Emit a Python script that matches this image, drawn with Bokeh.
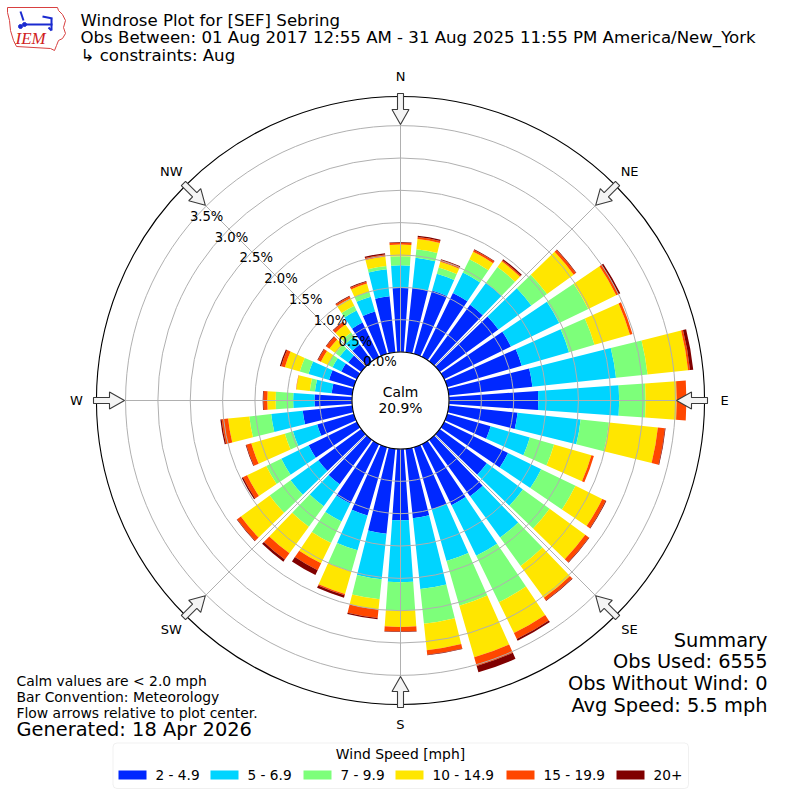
import math
from bokeh.plotting import figure
from bokeh.models import Range1d, BoxAnnotation, ColumnDataSource
from bokeh.core.properties import value
from bokeh.embed import file_html
from bokeh.resources import INLINE

# ---------------- data ----------------
directions = list(range(0, 360, 10))
speed_bins = ["2 - 4.9", "5 - 6.9", "7 - 9.9", "10 - 14.9", "15 - 19.9", "20+"]
bin_colors = ["#0028ff", "#00d4ff", "#7dff7a", "#ffe600", "#ff4700", "#800000"]

# percent of observations per direction (0,10,...,350) for each speed bin
pct_2_5 = [0.99, 1.00, 1.02, 1.10, 1.08, 1.12, 1.15, 1.20, 1.30, 1.38,
           1.07, 0.70, 1.10, 0.90, 1.08, 1.05, 1.00, 1.08, 1.10, 1.32,
           1.10, 1.02, 0.85, 0.82, 0.83, 0.59, 0.77, 0.58, 0.32, 0.40,
           0.27, 0.25, 0.32, 0.59, 0.68, 0.87]
pct_5_7 = [0.35, 0.47, 0.27, 0.35, 0.42, 0.63, 0.83, 0.76, 1.30, 1.25,
           0.98, 0.63, 0.57, 0.69, 0.79, 0.87, 0.83, 1.10, 0.96, 0.71,
           0.56, 0.31, 0.42, 0.53, 0.47, 0.39, 0.49, 0.33, 0.26, 0.33,
           0.15, 0.16, 0.15, 0.21, 0.24, 0.42]
pct_7_10 = [0.14, 0.13, 0.10, 0.23, 0.30, 0.30, 0.50, 0.41, 0.49, 0.41,
            0.44, 0.39, 0.59, 0.51, 0.54, 0.80, 0.72, 0.54, 0.44, 0.31,
            0.34, 0.37, 0.39, 0.40, 0.26, 0.13, 0.34, 0.27, 0.08, 0.14,
            0.08, 0.08, 0.08, 0.08, 0.08, 0.05]
pct_10_15 = [0.18, 0.16, 0.09, 0.13, 0.11, 0.51, 0.48, 0.57, 0.63, 0.48,
             0.76, 0.60, 0.46, 0.68, 0.61, 0.53, 0.83, 0.41, 0.25, 0.16,
             0.36, 0.35, 0.51, 0.55, 0.33, 0.54, 0.33, 0.13, 0.21, 0.24,
             0.12, 0.12, 0.15, 0.13, 0.13, 0.15]
pct_15_20 = [0.03, 0.03, 0.03, 0.03, 0.02, 0.04, 0.04, 0.04, 0.03, 0.15,
             0.11, 0.04, 0.06, 0.07, 0.05, 0.10, 0.14, 0.07, 0.07, 0.13,
             0.02, 0.12, 0.12, 0.07, 0.07, 0.08, 0.10, 0.06, 0.005, 0.06,
             0.05, 0.06, 0.05, 0.03, 0.03, 0.03]
pct_20p = [0.01, 0.02, 0.01, 0.01, 0.02, 0.01, 0.03, 0.00, 0.05, 0.00,
           0.01, 0.00, 0.01, 0.01, 0.01, 0.03, 0.10, 0.01, 0.01, 0.02,
           0.04, 0.08, 0.04, 0.01, 0.02, 0.01, 0.02, 0.01, 0.00, 0.02,
           0.01, 0.01, 0.01, 0.01, 0.01, 0.02]
series = [pct_2_5, pct_5_7, pct_7_10, pct_10_15, pct_15_20, pct_20p]

ring_values = [0.0, 0.5, 1.0, 1.5, 2.0, 2.5, 3.0, 3.5]
ring_labels = ["0.0%", "0.5%", "1.0%", "1.5%", "2.0%", "2.5%", "3.0%", "3.5%"]
compass_labels = ["N", "NE", "E", "SE", "S", "SW", "W", "NW"]
compass_angles = [0, 45, 90, 135, 180, 225, 270, 315]
calm_text = ["Calm", "20.9%"]
title_lines = ["Windrose Plot for [SEF] Sebring",
               "Obs Between: 01 Aug 2017 12:55 AM - 31 Aug 2025 11:55 PM America/New_York",
               "\u21b3 constraints: Aug"]
notes = ["Calm values are < 2.0 mph", "Bar Convention: Meteorology",
         "Flow arrows relative to plot center."]
generated = "Generated: 18 Apr 2026"
summary = ["Summary", "Obs Used: 6555", "Obs Without Wind: 0", "Avg Speed: 5.5 mph"]
legend_title = "Wind Speed [mph]"

# ---------------- geometry ----------------
S = 64.7                 # pixels per 1 % of radius
R0 = 48.5 / S            # calm circle radius (data units)
R_MAX = 3.95             # outer limit in %
R_OUT = R0 + R_MAX
HALF = 400.0 / S

def X(px):
    return (px - 400.0) / S

def Y(py):
    return (400.0 - py) / S

FONT = value("DejaVu Sans")

p = figure(width=800, height=800, x_range=Range1d(-HALF, HALF), y_range=Range1d(-HALF, HALF),
           output_backend="svg", toolbar_location=None, min_border=0,
           x_axis_type=None, y_axis_type=None)
p.outline_line_color = None
p.background_fill_color = "white"
p.border_fill_color = "white"
p.grid.visible = False

# ---------------- legend frame (underlay) ----------------
p.add_layout(BoxAnnotation(left=X(112.5), right=X(688), top=Y(742.5), bottom=Y(788),
                           fill_color="white", fill_alpha=1.0, line_color="#cccccc",
                           line_width=1, border_radius=4, level="underlay"))

# ---------------- bars ----------------
half_w = 4.0
cum = [0.0] * len(directions)
for k, vals in enumerate(series):
    inner = [R0 + c for c in cum]
    cum = [c + v for c, v in zip(cum, vals)]
    outer = [R0 + c for c in cum]
    src = ColumnDataSource(dict(
        x=[0.0] * len(directions), y=[0.0] * len(directions),
        ir=inner, orr=outer,
        sa=[math.radians(90 - d - half_w) for d in directions],
        ea=[math.radians(90 - d + half_w) for d in directions]))
    p.annular_wedge(x="x", y="y", inner_radius="ir", outer_radius="orr",
                    start_angle="sa", end_angle="ea", source=src,
                    fill_color=bin_colors[k], line_color=None)

# ---------------- grid ----------------
p.circle(x=[0.0] * len(ring_values), y=[0.0] * len(ring_values),
         radius=[R0 + v for v in ring_values], fill_color=None,
         line_color="#b0b0b0", line_width=1.0)
sx0 = [R0 * math.sin(math.radians(a)) for a in compass_angles]
sy0 = [R0 * math.cos(math.radians(a)) for a in compass_angles]
sx1 = [R_OUT * math.sin(math.radians(a)) for a in compass_angles]
sy1 = [R_OUT * math.cos(math.radians(a)) for a in compass_angles]
p.segment(x0=sx0, y0=sy0, x1=sx1, y1=sy1, line_color="#b0b0b0", line_width=1.0)

# outer circle
p.circle(x=[0.0], y=[0.0], radius=[R_OUT], fill_color=None, line_color="black", line_width=1.1)

# calm circle
p.circle(x=[0.0], y=[0.0], radius=[R0], fill_color="white", line_color="black", line_width=1.1)
p.text(x=[0.0, 0.0], y=[Y(391), Y(407)], text=calm_text, text_font=FONT,
       text_font_size="13.9px", text_align="center", text_baseline="middle", text_color="black")

# ring labels along 310 degrees
la = math.radians(310)
p.text(x=[(R0 + v) * math.sin(la) for v in ring_values],
       y=[(R0 + v) * math.cos(la) for v in ring_values],
       text=ring_labels, text_font=FONT, text_font_size="13.2px",
       text_align="left", text_baseline="middle", y_offset=-7.5, text_color="black")

# compass labels
RL = 324.0 / S
p.text(x=[RL * math.sin(math.radians(a)) for a in compass_angles],
       y=[RL * math.cos(math.radians(a)) for a in compass_angles],
       text=compass_labels, text_font=FONT, text_font_size="13px",
       text_align="center", text_baseline="middle", text_color="black")

# flow arrows (pointing to center)
arrow_shape = [(307, -3), (291, -3), (291, -8.5), (276, 0), (291, 8.5), (291, 3), (307, 3)]
axs, ays = [], []
for a in compass_angles:
    t = math.radians(a)
    xs, ys = [], []
    for r, w in arrow_shape:
        xs.append((r * math.sin(t) + w * math.cos(t)) / S)
        ys.append((r * math.cos(t) - w * math.sin(t)) / S)
    axs.append(xs)
    ays.append(ys)
p.patches(xs=axs, ys=ays, fill_color="#f4f4f4", line_color="#3a3a3a", line_width=1.1)

# ---------------- titles & notes ----------------
p.text(x=[X(80)] * 3, y=[Y(20), Y(36.5), Y(55)], text=[title_lines[0], title_lines[1], " " + title_lines[2]],
       text_font=FONT, text_font_size="16.6px", text_align="left",
       text_baseline="middle", text_color="black")
p.text(x=[X(16)] * 3, y=[Y(680), Y(696), Y(712)], text=notes, text_font=FONT,
       text_font_size="13.9px", text_align="left", text_baseline="middle", text_color="black")
p.text(x=[X(16)], y=[Y(729)], text=[generated], text_font=FONT,
       text_font_size="19.4px", text_align="left", text_baseline="middle", text_color="black")
p.text(x=[X(767)] * 4, y=[Y(639.5), Y(661), Y(683), Y(705)], text=summary, text_font=FONT,
       text_font_size="19.4px", text_align="right", text_baseline="middle", text_color="black")

# ---------------- legend ----------------
p.text(x=[X(400)], y=[Y(753)], text=[legend_title], text_font=FONT, text_font_size="13.9px",
       text_align="center", text_baseline="middle", text_color="black")
patch_x = [118, 210, 303, 395, 506, 616]
p.quad(left=[X(v) for v in patch_x], right=[X(v + 28) for v in patch_x],
       top=[Y(770)] * 6, bottom=[Y(779)] * 6, fill_color=bin_colors, line_color=None)
p.text(x=[X(v + 37) for v in patch_x], y=[Y(774.5)] * 6, text=speed_bins, text_font=FONT,
       text_font_size="13.7px", text_align="left", text_baseline="middle", text_color="black")

# ---------------- IEM logo ----------------
iowa_x = [7, 57, 58, 62, 65, 63, 65, 62, 58, 56, 54, 50, 16, 13, 10, 9, 7, 7]
iowa_y = [7, 7, 10, 14, 20, 27, 33, 38, 40, 45, 50, 48, 46, 40, 30, 20, 12, 7]
p.line(x=[X(v) for v in iowa_x], y=[Y(v) for v in iowa_y], line_color="#d84040", line_width=1)
p.segment(x0=[X(23), X(20), X(42), X(51), X(48)], y0=[Y(24), Y(11), Y(16), Y(18), Y(27)],
          x1=[X(52), X(23), X(52), X(51), X(51)], y1=[Y(24), Y(20), Y(18), Y(30), Y(30)],
          line_color="#1a2ad0", line_width=2)
p.scatter(x=[X(24), X(20)], y=[Y(24), Y(26)], size=4, color="#1a2ad0")
p.text(x=[X(15)], y=[Y(38)], text=["IEM"], text_font=value("Liberation Serif"),
       text_font_style="italic", text_font_size="17px", text_color="#d02020",
       text_align="left", text_baseline="middle")

open("out.html", "w").write(file_html(p, INLINE))
